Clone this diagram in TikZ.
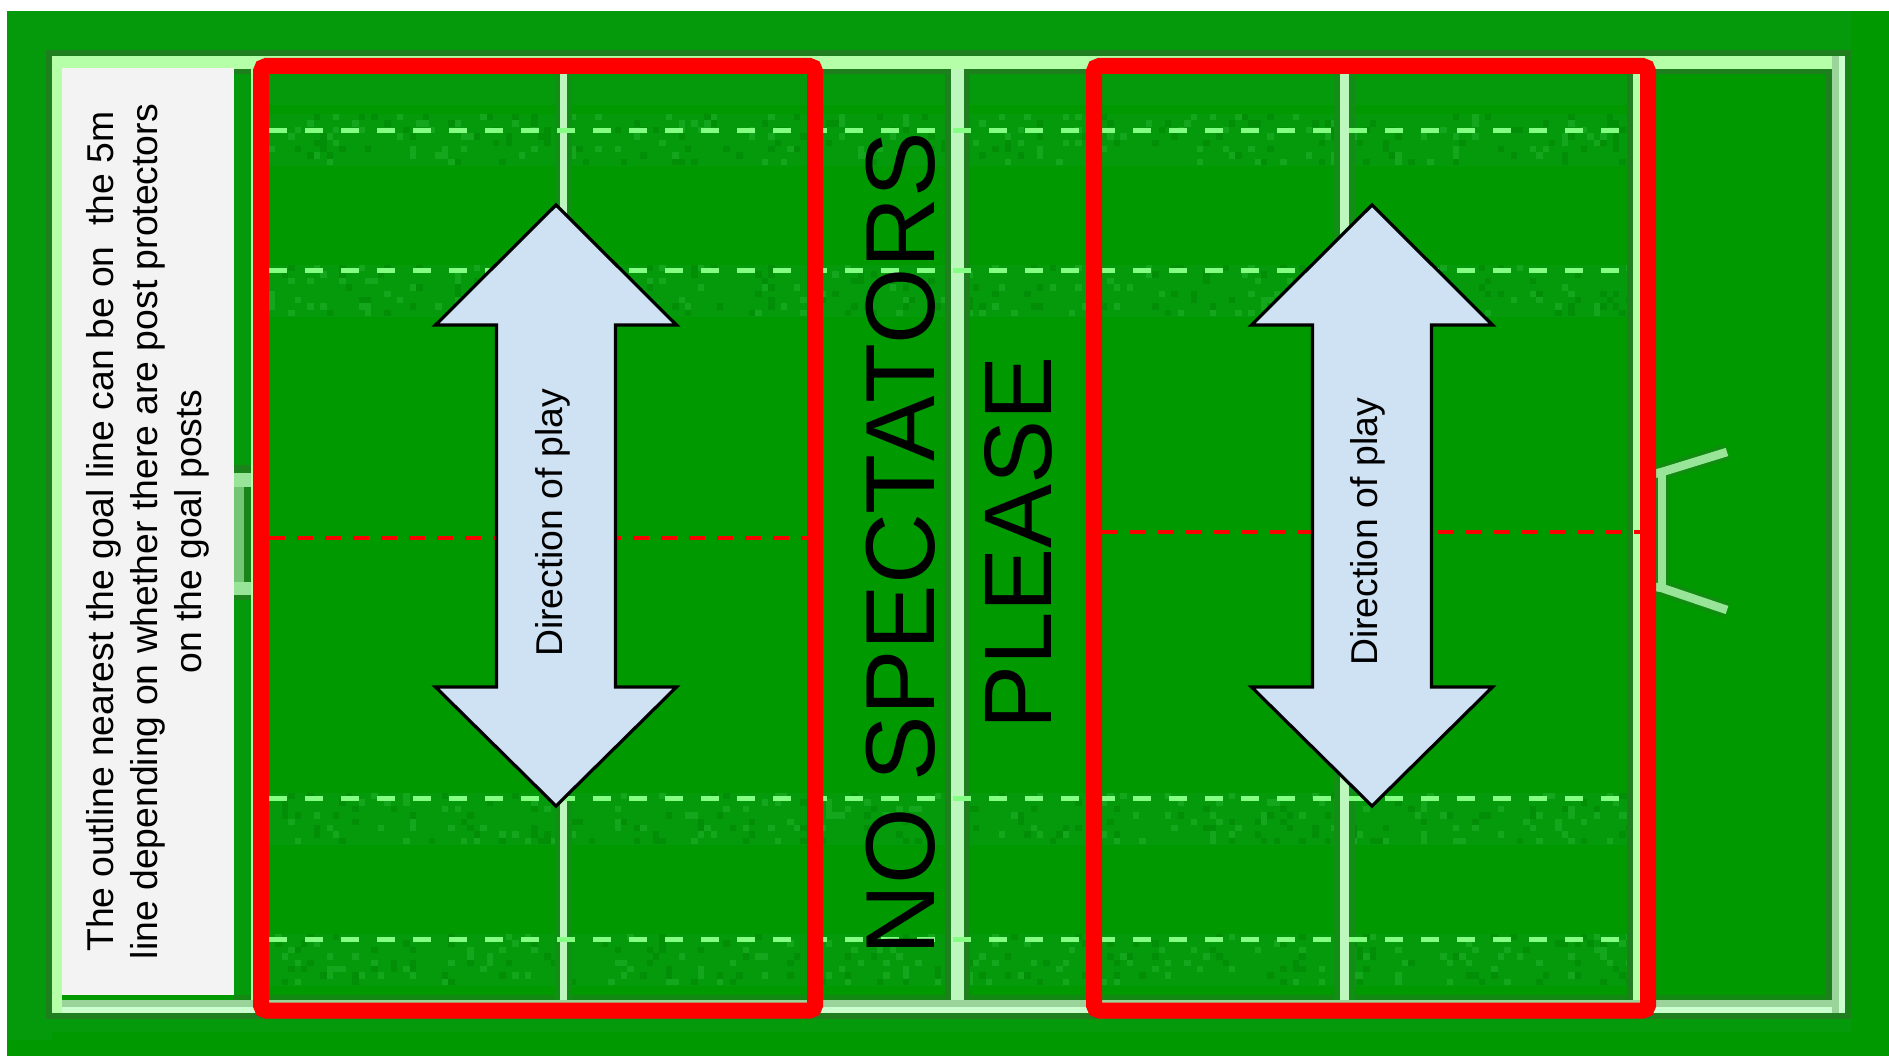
\documentclass[tikz,border=0pt]{standalone}
\usepackage{fontspec}
\setmainfont{Liberation Sans}
\definecolor{turf}{HTML}{009900}
\definecolor{turfband}{HTML}{059A0B}
\definecolor{nA}{HTML}{028F07}
\definecolor{nB}{HTML}{14A61C}
\definecolor{halo}{HTML}{1F7F1F}
\definecolor{lineA}{HTML}{B4FFA8}
\definecolor{lineB}{HTML}{CCFFD0}
\definecolor{lineC}{HTML}{9AD49A}
\definecolor{lineD}{HTML}{BDF7BD}
\definecolor{dashgreen}{HTML}{84FF84}
\definecolor{arrowfill}{HTML}{CFE2F3}
\definecolor{boxfill}{HTML}{F3F3F3}
\definecolor{postA}{HTML}{98E498}
\tikzset{
  x=0.75pt,y=-0.75pt,
  yardline/.style={line width=3.75pt,draw=dashgreen,dash pattern=on 13.5pt off 13.5pt},
  centreline/.style={line width=2.6pt,draw=red,dash pattern=on 12pt off 9pt},
  redframe/.style={line width=12pt,draw=red,rounded corners=4pt},
  playarrow/.style={draw=black,line width=2.4pt,fill=arrowfill,line join=miter},
  post/.style={line width=6.4pt,draw=postA,line join=round},
  posthalo/.style={line width=12pt,draw=halo!45!turf,line join=round},
}
\begin{document}
\begin{tikzpicture}
\useasboundingbox (0,0) rectangle (1889,1056);
% background
\fill[white] (0,0) rectangle (1889,1056);
\fill[turf] (7,11) rectangle (1889,1056);
% compression-blur bands
\fill[turfband] (7,11) rectangle (52,1040);
\fill[turfband] (7,11) rectangle (1851,56);
\fill[turfband] (52,1013) rectangle (1851,1032);
\fill[turfband] (62,69) rectangle (1632,105);
\fill[turfband] (234,69) rectangle (269,1000);
\fill[turfband] (815,69) rectangle (1094,105);
% texture beside the yard lines
\pgfmathsetseed{7}
\foreach \yy in {114,265,793,934}{
  \fill[turfband] (269,\yy) rectangle (1632,\yy+52);
  \foreach \row in {0,1,...,7}{
    \foreach \col in {0,2,...,210}{
      \pgfmathrandominteger{\rr}{0}{5}
      \pgfmathrandominteger{\ss}{0}{3}
      \ifnum\rr=0 \fill[nA] ({269+6.4*(\col+\ss)},{\yy+6.4*\row}) rectangle +(6.4,6.4);\fi
      \ifnum\rr=1 \fill[nB] ({269+6.4*(\col+\ss)},{\yy+6.4*\row}) rectangle +(6.4,6.4);\fi
    }
  }
}
% halos
\fill[halo] (46,50) rectangle (52,1019);
\fill[halo] (46,50) rectangle (1851,56);
\fill[halo] (46,1013) rectangle (1851,1019);
\fill[halo] (62,69) rectangle (1832,74);
\fill[halo!60!turf] (234,995) rectangle (1832,1000);
\fill[halo] (1826,56) rectangle (1832,1013);
\fill[halo!70!turf] (1845,56) rectangle (1851,1013);
\fill[halo] (945,69) rectangle (951,1000);
\fill[halo] (964,69) rectangle (970,1000);
\fill[halo] (1627,69) rectangle (1633,1000);
\fill[halo!50!turfband] (555,69) rectangle (560,1000);
\fill[halo!50!turfband] (567,69) rectangle (572,1000);
\fill[halo!50!turfband] (1334,69) rectangle (1340,1000);
\fill[halo!50!turfband] (1349,69) rectangle (1355,1000);
% goal posts
\draw[posthalo] (1650,475) -- (1662,472) -- (1727,452);
\draw[posthalo] (1662,472) -- (1662,588);
\draw[posthalo] (1650,586) -- (1662,588) -- (1727,610);
\draw[post] (1650,475) -- (1662,472) -- (1727,452);
\draw[post] (1662,472) -- (1662,588);
\draw[post] (1650,586) -- (1662,588) -- (1727,610);
\fill[halo!85!turf] (234,465) rectangle (253,600);
\fill[postA] (234,473) rectangle (253,487);
\fill[postA] (234,582) rectangle (253,595);
\fill[postA!70!halo] (234,487) rectangle (244,582);
% field outline
\fill[lineC] (52,1000) rectangle (1845,1007);
\fill[lineB] (52,1007) rectangle (1845,1013);
\fill[lineA] (52,56) rectangle (1845,69);
\fill[lineA] (52,56) rectangle (62,1013);
\fill[lineC] (1832,56) rectangle (1839,1013);
\fill[lineB] (1839,56) rectangle (1845,1013);
\fill[lineD] (951,69) rectangle (964,1000);
\fill[lineA] (1633,69) rectangle (1640,1000);
\fill[lineA] (250.5,69) rectangle (253,1000);
\fill[lineD] (560,69) rectangle (567,1000);
\fill[lineD] (1340,69) rectangle (1349,1000);
% yard lines
\foreach \yy in {130,270,798,939}{
  \draw[yardline] (269,\yy) -- (1632,\yy);
}
% note box
\node[rotate=90,fill=boxfill,minimum width=927*0.75pt,minimum height=172*0.75pt,inner sep=0pt,
      align=center,font=\fontsize{28pt}{33pt}\selectfont] (note) at (148,531.5)
  {The outline nearest the goal line can be on\ \ the 5m\\line depending on whether there are post protectors\\on the goal posts};
% halfway dashes
\coordinate (mLa) at (269,538);
\coordinate (mLb) at (810,538);
\coordinate (mRa) at (1102,532);
\coordinate (mRb) at (1640,532);
\draw[centreline] (mLa) -- (mLb);
\draw[centreline] (mRa) -- (mRb);
% red frames
\draw[redframe] (261,66) rectangle (815,1010.5);
\draw[redframe] (1094,66) rectangle (1648,1010.5);
% arrows
\foreach \nm/\cx in {L/556,R/1372}{
  \draw[playarrow] (\cx,205) -- (\cx+120.5,325) -- (\cx+59.5,325) -- (\cx+59.5,687) -- (\cx+120.5,687)
    -- (\cx,806) -- (\cx-120.5,687) -- (\cx-59.5,687) -- (\cx-59.5,325) -- (\cx-120.5,325) -- cycle;
}
\node[rotate=90,inner sep=0pt,font=\fontsize{28pt}{34pt}\selectfont] (dirL) at (553,523) {Direction of play};
\node[rotate=90,inner sep=0pt,font=\fontsize{28pt}{34pt}\selectfont] (dirR) at (1368,532) {Direction of play};
% big text
\node[rotate=90,inner sep=0pt,font=\fontsize{73.6pt}{90pt}\selectfont] (nospec) at (901,544) {NO SPECTATORS};
\node[rotate=90,inner sep=0pt,font=\fontsize{72pt}{90pt}\selectfont] (please) at (1018,543) {PLEASE};
\end{tikzpicture}
\end{document}
